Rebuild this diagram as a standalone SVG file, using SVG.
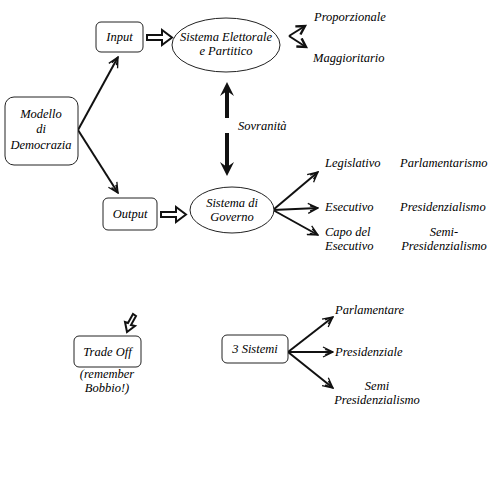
<svg xmlns="http://www.w3.org/2000/svg" width="500" height="500" viewBox="0 0 500 500">
<style>
text{font-family:'Liberation Serif',serif;font-style:italic;font-size:12.5px;fill:#000;text-anchor:middle}
.l{text-anchor:start}
.box{fill:#fff;stroke:#222;stroke-width:1}
.ell{fill:#fff;stroke:#222;stroke-width:1}
.c{fill:none;stroke:#111;stroke-width:2}
.blk{fill:#fff;stroke:#111;stroke-width:2;stroke-linejoin:miter}
</style>
<defs>
<marker id="ah" viewBox="0 0 12 12" refX="11" refY="6" markerWidth="12" markerHeight="12" markerUnits="userSpaceOnUse" orient="auto">
<path d="M1,1 L11,6 L1,11 M3,3.5 L11,6 L3,8.5" fill="none" stroke="#111" stroke-width="1.3"/>
</marker>
<marker id="th" viewBox="0 0 10 10" refX="8" refY="5" markerWidth="12" markerHeight="12" markerUnits="userSpaceOnUse" orient="auto">
<path d="M1,1 L8,5 L1,9" fill="none" stroke="#111" stroke-width="2"/>
</marker>
</defs>
<g id="connectors">
<path class="c" d="M78,130 L118,57" marker-end="url(#ah)"/>
<path class="c" d="M78,130 L118,193" marker-end="url(#ah)"/>
<path class="blk" d="M147,35 L162,35 L162,30 L172,37.5 L162,45 L162,40 L147,40 Z"/>
<path class="blk" d="M161,212 L176,212 L176,207 L186,214.5 L176,222 L176,217 L161,217 Z"/>
<path class="c" d="M289,36 L305,26" marker-end="url(#th)"/>
<path class="c" d="M289,36 L306,47" marker-end="url(#th)"/>
<path fill="none" stroke="#111" stroke-width="4" d="M227,118 L227,88 M227,133 L227,170"/>
<path fill="#111" d="M227,82 L220,96 L227,91 L234,96 Z M227,176 L220,162 L227,167 L234,162 Z"/>
<path class="c" d="M273,210 L318,172" marker-end="url(#ah)"/>
<path class="c" d="M273,210 L318,208" marker-end="url(#ah)"/>
<path class="c" d="M273,210 L318,235" marker-end="url(#ah)"/>
<path class="c" d="M288,352 L333,317" marker-end="url(#ah)"/>
<path class="c" d="M288,352 L333,352" marker-end="url(#ah)"/>
<path class="c" d="M288,352 L333,388" marker-end="url(#ah)"/>
<path class="blk" d="M136,316 L131,325 L135,326 L127,332 L125,322 L128,323 L133,314 Z" stroke-width="1.6"/>
</g>
<g id="modello"><rect class="box" x="5" y="97" width="73" height="68" rx="9"/>
<text x="41" y="118">Modello</text><text x="41" y="133">di</text><text x="41" y="149">Democrazia</text></g>
<g id="input"><rect class="box" x="96" y="22" width="47" height="30" rx="5"/><text x="119.5" y="41">Input</text></g>
<g id="sistema-elettorale"><ellipse class="ell" cx="226" cy="45" rx="54" ry="27"/>
<text x="226" y="41">Sistema Elettorale</text><text x="226" y="55">e Partitico</text></g>
<g id="proporzionale"><text class="l" x="314" y="21">Proporzionale</text></g>
<g id="maggioritario"><text class="l" x="313" y="62">Maggioritario</text></g>
<g id="sovranita"><text class="l" x="238" y="130">Sovranità</text></g>
<g id="output"><rect class="box" x="103" y="198" width="54" height="32" rx="5"/><text x="130" y="218">Output</text></g>
<g id="sistema-governo"><ellipse class="ell" cx="232" cy="210" rx="42" ry="23"/>
<text x="232" y="207">Sistema di</text><text x="232" y="221">Governo</text></g>
<g id="legislativo"><text class="l" x="325" y="167">Legislativo</text></g>
<g id="esecutivo"><text class="l" x="325" y="211">Esecutivo</text></g>
<g id="capo"><text class="l" x="325" y="236">Capo del</text><text class="l" x="325" y="250">Esecutivo</text></g>
<g id="parlamentarismo"><text class="l" x="400" y="167">Parlamentarismo</text></g>
<g id="presidenzialismo"><text class="l" x="400" y="211">Presidenzialismo</text></g>
<g id="semi-pres"><text x="444" y="236">Semi-</text><text x="444" y="250">Presidenzialismo</text></g>
<g id="tradeoff"><rect class="box" x="74" y="336" width="67" height="31" rx="5"/><text x="107.5" y="356">Trade Off</text>
<text x="107" y="378">(remember</text><text x="107" y="392">Bobbio!)</text></g>
<g id="tre-sistemi"><rect class="box" x="222" y="335" width="66" height="28" rx="5"/><text x="255" y="353">3 Sistemi</text></g>
<g id="parlamentare"><text class="l" x="335" y="314">Parlamentare</text></g>
<g id="presidenziale"><text class="l" x="335" y="356">Presidenziale</text></g>
<g id="semi"><text x="377" y="390">Semi</text><text x="377" y="404">Presidenzialismo</text></g>
</svg>
